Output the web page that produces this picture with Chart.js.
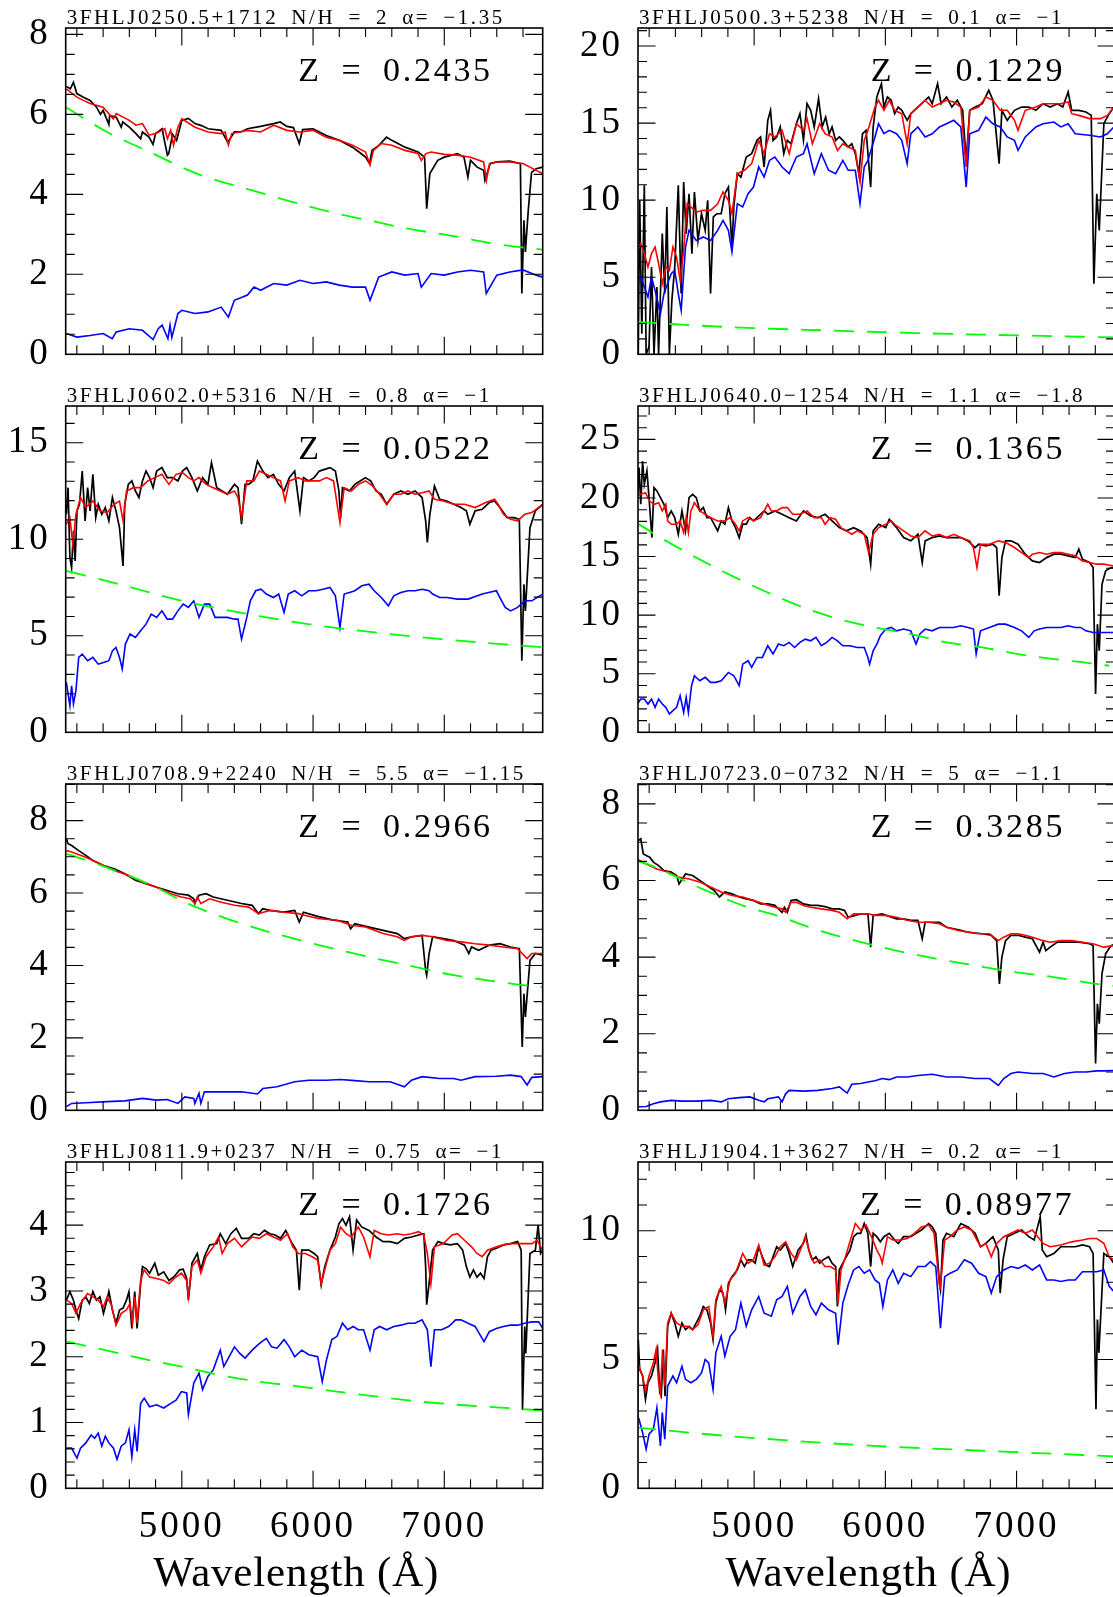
<!DOCTYPE html>
<html><head><meta charset="utf-8">
<script src="https://cdn.jsdelivr.net/npm/chart.js@4.4.1/dist/chart.umd.min.js"></script>
<style>
html,body{margin:0;padding:0;background:#fff;overflow:hidden;width:1113px;height:1597px;}
#wrap{position:relative;width:1113px;height:1597px;overflow:hidden;background:#fff;}
canvas{position:absolute;}
</style></head><body><div id="wrap"></div>
<script>
// ---------- panel texts ----------
const SOURCES = ["3FHLJ0250.5+1712","3FHLJ0500.3+5238","3FHLJ0602.0+5316","3FHLJ0640.0\u22121254","3FHLJ0708.9+2240","3FHLJ0723.0\u22120732","3FHLJ0811.9+0237","3FHLJ1904.1+3627"];
const NH = ["2","0.1","0.8","1.1","5.5","5","0.75","0.2"];
const ALPHA = ["\u22121.35","\u22121","\u22121","\u22121.8","\u22121.15","\u22121.1","\u22121","\u22121"];
const ZVAL = ["0.2435","0.1229","0.0522","0.1365","0.2966","0.3285","0.1726","0.08977"];
const Z_X = [5888,5888,5888,5888,5888,5888,5888,5807];
const X_TITLE = "Wavelength (\u00c5)";
// ---------- axes ----------
const X_MIN = 4115, X_MAX = 7750;
const X_TICK_LABELS = [5000, 6000, 7000];
const Y_MAX = [8.16, 21.17, 16.9, 27.85, 9.01, 8.52, 4.96, 12.67];
const Y_MAJOR = [2, 5, 5, 5, 2, 2, 1, 5];
const Y_MINOR = [0.5, 1, 1, 1, 0.5, 0.5, 0.2, 1];

// ---------- spectra: [wavelength, flux, wavelength, flux, ...] ----------
const P1_BLACK = [4120,6.70,4150,6.64,4174,6.80,4200,6.52,4250,6.43,4300,6.35,4350,6.18,4380,6.0,4400,6.10,4444,5.75,4450,5.97,4500,5.93,4538,5.68,4550,5.81,4600,5.68,4650,5.52,4686,5.39,4700,5.56,4750,5.43,4780,5.25,4800,5.52,4850,5.64,4870,5.3,4890,4.98,4900,5.02,4930,5.5,4960,5.35,5000,5.85,5050,5.9,5100,5.77,5150,5.72,5200,5.64,5300,5.6,5350,5.3,5400,5.56,5450,5.56,5500,5.64,5600,5.7,5700,5.77,5750,5.81,5800,5.7,5850,5.67,5895,5.27,5920,5.62,6000,5.64,6100,5.47,6200,5.35,6300,5.18,6350,5.06,6400,4.93,6430,4.77,6450,5.1,6500,5.22,6560,5.43,6600,5.35,6700,5.18,6800,5.06,6850,4.93,6866,3.64,6890,4.52,6950,4.85,7000,4.93,7100,5.02,7150,4.93,7180,4.43,7200,4.85,7250,4.68,7300,4.6,7310,4.35,7350,4.77,7400,4.81,7500,4.83,7580,4.77,7591,1.52,7607,3.35,7618,2.56,7640,3.6,7665,4.55,7700,4.64,7750,4.68];
const P1_RED = [4120,6.64,4200,6.43,4250,6.35,4300,6.27,4400,6.18,4478,5.89,4500,6.02,4600,5.85,4650,5.73,4700,5.77,4750,5.48,4800,5.52,4870,5.64,4890,5.39,4915,5.6,4937,5.23,4970,5.68,5000,5.89,5100,5.68,5200,5.56,5300,5.52,5330,5.56,5355,5.23,5380,5.52,5500,5.6,5600,5.56,5700,5.73,5800,5.6,5900,5.56,6000,5.6,6100,5.43,6200,5.35,6300,5.23,6400,5.06,6434,4.73,6460,5.1,6520,5.27,6600,5.23,6700,5.1,6800,5.02,6825,4.85,6860,5.02,6900,5.06,7000,5.0,7100,4.98,7200,4.93,7300,4.81,7321,4.35,7345,4.77,7400,4.81,7500,4.81,7600,4.77,7700,4.6,7750,4.52];
const P1_BLUE = [4120,0.52,4200,0.43,4300,0.47,4400,0.52,4470,0.39,4500,0.56,4600,0.64,4700,0.6,4781,0.37,4820,0.64,4850,0.73,4894,0.39,4910,0.73,4924,0.42,4970,1.02,5000,1.1,5100,1.02,5200,1.06,5300,1.18,5355,0.93,5400,1.35,5500,1.48,5550,1.68,5600,1.6,5700,1.77,5800,1.73,5900,1.85,6000,1.77,6100,1.81,6200,1.73,6300,1.68,6400,1.68,6434,1.35,6500,1.93,6600,2.06,6700,1.98,6800,2.02,6825,1.68,6900,2.02,7000,1.98,7100,2.06,7200,2.1,7300,2.06,7320,1.52,7400,1.98,7500,2.06,7600,2.11,7700,1.98,7750,1.93];
const P1_GREEN = [4120,6.17,4430,5.56,4754,5.06,5104,4.53,5536,4.1,5833,3.82,6129,3.56,6453,3.33,6723,3.14,7046,2.97,7451,2.73,7750,2.62];

const P2_BLACK = [4101,8.26,4117,0,4128,9.99,4144,1.34,4163,10.96,4177,0,4199,0.48,4218,5.66,4237,0,4259,4.37,4272,0,4300,7.83,4319,3.94,4335,9.56,4354,0,4373,3.5,4395,5.66,4422,10.96,4444,3.94,4463,11.18,4482,7.83,4504,10.42,4526,6.53,4545,10.53,4572,7.39,4599,9.12,4627,8.04,4646,9.99,4668,3.94,4689,8.91,4717,9.12,4749,9.12,4777,10.42,4804,10.85,4831,6.96,4845,9.56,4872,11.72,4899,11.5,4940,12.8,4981,13.02,5022,13.88,5049,14.1,5076,12.15,5104,15.18,5125,15.83,5144,13.88,5172,14.1,5199,14.75,5226,13.02,5253,13.88,5281,13.66,5322,14.96,5349,15.61,5376,13.88,5403,16.26,5431,15.83,5458,14.75,5491,16.58,5518,14.75,5545,15.39,5572,14.31,5594,14.75,5621,13.88,5649,14.1,5676,13.88,5717,13.45,5744,13.66,5771,13.02,5798,11.72,5826,14.31,5853,14.53,5888,10.85,5907,14.75,5935,16.69,5970,17.56,5989,16.04,6016,16.69,6044,16.48,6071,15.61,6098,16.04,6125,15.83,6166,15.18,6194,15.61,6221,15.83,6248,16.04,6303,16.48,6330,16.69,6357,16.26,6398,17.56,6425,16.26,6466,16.69,6507,16.04,6548,16.48,6589,15.83,6616,12.58,6643,15.83,6684,16.04,6739,16.26,6788,17.12,6820,16.48,6867,12.37,6888,15.83,6929,15.18,6984,15.83,7038,16.04,7093,16.04,7147,15.83,7202,16.26,7256,16.04,7311,16.26,7352,16.04,7393,17.02,7420,15.83,7474,15.83,7529,15.72,7569,15.5,7589,4.58,7611,10.42,7630,8.04,7665,14.96,7706,15.61,7741,16.04];
const P2_RED = [4101,6.53,4136,7.18,4163,6.53,4191,5.66,4218,6.53,4245,6.96,4272,5.88,4300,4.58,4327,5.66,4354,5.45,4381,6.96,4409,6.31,4436,4.8,4463,6.75,4490,9.77,4518,9.56,4559,9.23,4613,9.34,4668,9.34,4722,9.77,4763,10.53,4804,9.99,4831,9.12,4872,11.72,4926,11.94,4981,12.37,5035,13.88,5076,13.02,5117,14.31,5158,14.1,5213,14.53,5267,13.02,5322,14.96,5376,14.53,5403,15.29,5444,13.66,5499,14.96,5540,14.31,5594,14.1,5635,13.23,5676,13.66,5717,13.45,5771,13.23,5807,11.18,5839,13.88,5867,14.53,5921,16.04,5948,16.48,5989,15.83,6030,16.48,6071,15.83,6125,15.61,6166,13.66,6194,15.61,6248,16.04,6303,16.48,6357,16.04,6412,16.26,6466,16.48,6521,16.37,6575,16.04,6616,12.15,6643,15.83,6711,16.04,6766,16.69,6820,16.48,6875,15.83,6929,15.83,6984,15.18,7011,14.53,7066,15.83,7147,16.04,7202,16.26,7284,16.26,7338,16.26,7393,16.37,7420,15.61,7474,15.5,7556,15.29,7638,15.29,7692,15.5,7741,16.04];
const P2_BLUE = [4101,4.37,4136,5.02,4163,4.37,4191,3.72,4218,5.02,4245,4.15,4286,2.64,4313,3.94,4368,5.23,4395,5.45,4422,3.94,4444,2.85,4477,6.96,4504,8.04,4559,7.39,4613,7.61,4668,7.39,4722,8.04,4763,8.69,4804,8.04,4831,6.64,4872,9.77,4913,9.56,4954,10.42,4995,10.85,5035,12.15,5076,11.5,5117,12.58,5158,12.8,5213,12.15,5267,11.72,5322,12.8,5376,13.02,5403,13.66,5458,11.72,5512,13.02,5567,11.94,5621,11.72,5676,12.58,5717,11.94,5771,11.94,5807,9.77,5839,12.15,5867,12.58,5921,14.1,5948,14.96,5989,14.31,6030,14.53,6085,14.31,6125,13.88,6166,12.37,6194,14.31,6248,14.75,6303,14.1,6357,14.31,6412,14.75,6466,14.96,6521,15.18,6575,14.75,6616,10.85,6643,14.31,6711,14.53,6766,15.39,6820,14.96,6875,14.75,6929,14.1,6984,13.88,7011,13.23,7066,14.1,7147,14.75,7202,14.96,7284,15.07,7338,14.75,7393,14.96,7447,14.31,7556,14.21,7638,14.1,7692,14.31,7741,14.75];
const P2_GREEN = [4101,2.1,4400,1.95,4700,1.81,5000,1.7,5500,1.56,6000,1.43,6500,1.32,7000,1.23,7500,1.14,7750,1.1];

const P3_BLACK = [4120,11.29,4133,12.67,4147,9.05,4160,8.53,4174,10.43,4187,8.88,4201,11.47,4220,11.81,4241,13.53,4263,10.95,4282,12.67,4301,11.47,4322,13.36,4344,11.12,4363,11.81,4390,11.29,4417,11.64,4444,10.95,4471,12.16,4498,11.47,4525,10.6,4552,8.62,4565,11.81,4592,12.84,4619,13.02,4646,12.5,4673,12.16,4700,13.02,4727,13.53,4754,13.19,4781,12.67,4808,13.53,4848,13.71,4889,13.19,4929,13.19,4970,13.02,5005,13.53,5037,13.71,5077,13.19,5118,12.5,5158,13.19,5199,12.84,5226,13.97,5266,12.67,5307,12.5,5347,12.33,5401,12.84,5428,12.67,5455,10.78,5482,12.84,5509,12.84,5541,13.02,5576,14.05,5617,13.53,5657,13.19,5698,13.36,5738,12.84,5779,12.5,5819,13.19,5860,13.53,5900,11.47,5927,13.19,5968,13.02,6008,13.19,6048,13.53,6089,13.62,6129,13.71,6170,13.53,6197,12.5,6210,11.12,6224,12.67,6278,12.5,6318,12.84,6359,13.02,6399,13.19,6439,13.02,6480,12.5,6520,12.33,6561,11.81,6615,12.33,6669,12.5,6723,12.33,6777,12.5,6831,12.16,6858,10.95,6871,9.83,6890,11.29,6925,12.76,6965,12.07,7019,11.98,7073,11.81,7127,11.64,7168,11.47,7195,10.78,7235,11.47,7289,11.55,7343,11.9,7383,11.98,7424,11.64,7478,11.12,7532,11.12,7572,11.03,7591,3.71,7607,7.67,7618,6.29,7653,10.6,7694,11.47,7750,11.81];
const P3_RED = [4120,10.78,4147,11.12,4169,9.74,4193,11.29,4228,12.16,4268,11.64,4322,11.98,4376,11.47,4430,11.38,4484,11.81,4525,11.98,4552,10.95,4578,12.5,4632,12.67,4686,12.67,4740,13.02,4794,13.19,4848,13.36,4902,12.84,4956,13.36,5005,13.45,5050,13.19,5091,13.02,5131,13.19,5185,12.84,5239,12.67,5293,12.5,5347,12.33,5401,12.5,5428,12.16,5455,11.12,5495,13.02,5549,13.02,5590,13.53,5644,13.36,5698,13.19,5752,13.02,5787,11.98,5819,13.02,5887,13.19,5941,13.02,5994,13.02,6048,13.02,6102,13.19,6156,13.02,6205,10.86,6237,12.67,6291,12.5,6345,12.84,6399,13.02,6453,12.76,6507,12.33,6561,11.81,6615,12.33,6669,12.33,6723,12.5,6777,12.33,6831,12.41,6884,12.5,6925,12.07,6992,11.98,7073,11.81,7154,11.81,7235,11.64,7316,11.9,7383,12.07,7410,11.81,7451,11.29,7505,11.03,7559,10.95,7613,11.29,7667,11.38,7750,11.81];
const P3_BLUE = [4120,2.59,4147,1.38,4160,2.41,4174,1.47,4193,2.16,4214,3.88,4241,4.05,4282,3.71,4322,3.88,4363,3.53,4403,3.62,4444,3.71,4471,4.22,4498,4.4,4525,3.88,4546,3.28,4570,4.57,4605,5.09,4646,4.91,4686,5.26,4727,5.6,4767,6.12,4808,5.95,4848,6.29,4889,5.86,4929,5.86,4970,6.29,5010,6.64,5050,6.47,5091,6.81,5131,5.95,5172,6.64,5212,6.64,5253,5.95,5293,5.95,5347,5.95,5401,5.86,5428,5.86,5455,4.83,5495,5.95,5522,6.81,5563,7.33,5603,7.41,5644,7.16,5698,6.98,5738,7.16,5779,6.21,5811,7.16,5860,7.33,5914,7.07,5968,7.33,6021,7.33,6075,7.41,6129,7.5,6170,7.07,6205,5.43,6237,7.16,6278,7.24,6318,7.33,6372,7.59,6426,7.67,6466,7.33,6520,6.98,6574,6.55,6615,7.07,6669,7.24,6723,7.33,6777,7.33,6831,7.41,6884,7.33,6911,7.16,6965,6.98,7019,6.98,7100,6.9,7181,6.9,7289,7.16,7397,7.33,7424,6.98,7464,6.47,7505,6.29,7559,6.47,7613,6.81,7667,6.81,7750,7.16];
const P3_GREEN = [4120,8.36,4550,7.62,4970,6.86,5509,6.12,6048,5.52,6588,5.09,7127,4.74,7750,4.4];

const P4_BLACK = [4101,22.3,4112,20.03,4123,22.59,4136,19.46,4150,23.15,4163,21.16,4183,22.3,4199,20.03,4221,16.62,4237,20.88,4259,20.6,4286,20.03,4313,19.46,4341,18.32,4368,18.89,4395,18.32,4422,16.9,4450,18.89,4477,17.19,4504,20.03,4531,20.31,4559,20.03,4586,18.89,4613,19.18,4640,18.32,4668,18.32,4695,17.76,4722,17.19,4749,18.04,4777,17.76,4804,19.18,4831,18.04,4858,17.47,4886,16.62,4913,17.76,4940,17.76,4967,18.32,4995,18.04,5022,18.32,5049,18.61,5076,18.89,5104,18.61,5158,18.89,5213,18.61,5267,18.32,5322,18.04,5376,18.89,5431,18.47,5485,18.32,5540,18.61,5594,18.04,5649,17.47,5703,17.19,5758,17.47,5812,17.19,5861,16.62,5888,14.35,5907,17.19,5948,17.76,6003,17.47,6030,18.18,6085,17.47,6139,16.62,6194,16.34,6248,16.9,6281,14.49,6303,16.34,6357,16.62,6412,16.76,6466,16.62,6521,16.62,6575,16.62,6630,16.34,6684,15.77,6711,16.05,6766,15.91,6820,16.05,6848,15.77,6867,11.65,6888,14.91,6916,16.34,6957,16.34,7011,16.05,7066,15.2,7120,14.63,7175,14.49,7229,14.91,7284,15.2,7338,15.2,7393,15.06,7447,14.91,7474,15.63,7502,14.77,7556,14.49,7583,14.06,7602,3.27,7616,9.23,7630,6.96,7651,12.64,7679,13.78,7720,14.06,7741,14.06];
const P4_RED = [4101,20.17,4136,20.31,4172,20.45,4204,19.74,4237,19.46,4272,19.6,4300,18.89,4327,19.46,4341,18.04,4368,17.76,4409,17.76,4436,18.04,4463,17.05,4482,18.32,4499,17.05,4518,18.89,4545,19.6,4586,18.89,4627,18.61,4668,18.32,4722,18.04,4777,18.04,4817,18.32,4858,17.76,4886,17.19,4913,18.04,4954,18.32,4995,18.04,5049,18.32,5104,19.46,5131,18.89,5172,18.89,5213,19.18,5253,19.18,5294,18.61,5349,18.61,5403,18.89,5458,18.32,5512,18.32,5540,17.76,5580,18.32,5621,18.18,5662,17.47,5703,17.19,5744,16.9,5785,17.19,5839,16.9,5872,15.34,5907,16.9,5948,17.47,6003,17.76,6044,18.04,6085,17.61,6139,17.19,6194,16.76,6248,16.62,6303,17.19,6357,16.76,6412,16.9,6466,16.62,6521,16.9,6575,16.62,6643,16.34,6671,15.77,6698,14.06,6725,16.05,6793,16.05,6861,16.34,6916,16.19,6984,15.77,7038,15.34,7093,14.91,7120,15.2,7175,15.34,7229,15.2,7284,15.34,7338,15.34,7393,15.2,7447,15.06,7502,14.63,7556,14.49,7611,14.35,7665,14.35,7741,14.2];
const P4_BLUE = [4101,2.27,4136,2.84,4163,2.84,4191,2.41,4218,2.84,4245,2.13,4272,2.84,4300,2.41,4327,2.13,4354,1.56,4381,1.85,4409,2.13,4436,3.13,4463,1.7,4482,2.98,4499,1.7,4523,3.98,4545,4.83,4586,4.4,4627,4.69,4668,4.26,4708,4.26,4749,4.4,4804,5.11,4845,4.83,4886,3.98,4913,5.82,4954,6.11,4981,5.54,5022,6.39,5063,6.39,5104,7.39,5144,6.68,5185,7.53,5226,7.39,5267,7.67,5308,7.24,5349,7.67,5390,7.95,5431,7.81,5471,8.1,5512,7.39,5553,7.67,5594,8.1,5635,7.81,5676,7.39,5730,7.39,5785,7.24,5839,7.24,5867,6.39,5880,5.82,5907,6.96,5935,7.53,5962,8.24,6003,8.81,6044,8.95,6085,8.66,6139,8.81,6194,8.66,6234,7.53,6262,8.38,6303,8.81,6357,8.66,6412,8.95,6466,8.95,6521,8.95,6575,9.09,6630,8.95,6671,8.81,6692,6.68,6725,8.66,6793,8.95,6861,9.23,6916,9.23,6984,8.95,7038,8.66,7093,8.1,7134,8.66,7175,8.81,7229,8.95,7284,8.95,7338,8.95,7393,9.09,7447,8.95,7488,8.95,7529,8.66,7583,8.52,7638,8.52,7692,8.52,7741,8.52];
const P4_GREEN = [4101,17.9,4286,16.62,4559,14.91,4831,13.35,5104,11.93,5376,10.65,5649,9.66,5921,8.95,6194,8.38,6466,7.67,6739,7.24,7011,6.68,7284,6.25,7556,5.91,7706,5.68];

const P5_BLACK = [4120,7.5,4133,7.36,4160,7.31,4214,7.17,4268,7.04,4322,6.9,4403,6.76,4484,6.67,4565,6.53,4646,6.35,4727,6.26,4808,6.16,4889,6.07,4970,5.98,5050,5.94,5091,5.84,5099,5.71,5131,5.94,5185,5.98,5239,5.89,5347,5.8,5455,5.71,5536,5.66,5584,5.43,5617,5.57,5671,5.52,5779,5.47,5860,5.52,5895,5.2,5927,5.47,6048,5.34,6156,5.25,6264,5.2,6286,5.01,6318,5.15,6426,5.06,6534,4.97,6642,4.88,6696,4.74,6750,4.79,6831,4.83,6858,3.86,6866,3.73,6884,4.32,6911,4.79,6992,4.74,7073,4.69,7154,4.56,7187,4.33,7208,4.51,7262,4.42,7343,4.56,7424,4.6,7505,4.51,7572,4.46,7594,1.75,7607,3.22,7618,2.58,7653,4.14,7694,4.33,7750,4.28];
const P5_RED = [4120,7.17,4160,7.13,4268,6.99,4376,6.81,4484,6.62,4592,6.49,4700,6.3,4808,6.16,4916,5.98,4997,5.89,5064,5.84,5099,5.71,5118,5.89,5145,5.71,5212,5.84,5293,5.75,5401,5.66,5509,5.61,5584,5.43,5671,5.52,5779,5.47,5887,5.43,5941,5.38,6048,5.29,6183,5.25,6291,5.11,6399,5.06,6534,4.88,6642,4.79,6696,4.69,6750,4.79,6831,4.83,6911,4.79,7019,4.69,7127,4.65,7235,4.6,7343,4.56,7451,4.51,7559,4.46,7631,4.19,7667,4.33,7750,4.33];
const P5_BLUE = [4120,0.1,4160,0.19,4268,0.21,4430,0.24,4565,0.26,4700,0.33,4808,0.28,4889,0.3,4970,0.19,5023,0.37,5091,0.33,5099,0.19,5131,0.47,5145,0.19,5172,0.51,5293,0.51,5455,0.51,5576,0.45,5617,0.6,5725,0.65,5860,0.79,5968,0.83,6102,0.83,6210,0.85,6318,0.82,6426,0.79,6588,0.79,6696,0.65,6750,0.83,6831,0.93,6965,0.88,7073,0.88,7127,0.83,7235,0.93,7397,0.94,7505,0.97,7586,0.93,7631,0.7,7667,0.91,7750,0.93];
const P5_GREEN = [4120,7.08,4193,7.0,4430,6.7,4754,6.24,5050,5.7,5320,5.32,5603,4.99,5887,4.71,6183,4.44,6480,4.19,6777,3.96,7073,3.73,7329,3.59,7613,3.45,7750,3.4];

const P6_BLACK = [4101,6.87,4117,7.04,4136,7.09,4155,6.7,4177,6.65,4204,6.61,4232,6.48,4272,6.39,4313,6.26,4368,6.22,4409,6.13,4428,5.91,4477,6.17,4531,6.13,4586,6.0,4640,5.87,4695,5.74,4736,5.57,4777,5.7,4831,5.65,4886,5.57,4940,5.52,4995,5.48,5049,5.39,5104,5.39,5158,5.35,5213,5.17,5231,5.3,5253,5.17,5281,5.48,5322,5.5,5376,5.39,5431,5.35,5485,5.35,5540,5.32,5594,5.26,5649,5.26,5689,5.22,5717,5.04,5771,5.09,5812,5.13,5867,5.13,5888,4.26,5907,5.09,5976,5.13,6030,5.06,6085,5.0,6139,5.0,6194,4.96,6248,4.96,6281,4.48,6303,4.91,6357,4.91,6412,4.91,6466,4.78,6521,4.74,6575,4.7,6630,4.65,6684,4.63,6739,4.61,6807,4.57,6848,4.43,6869,3.3,6888,4.0,6916,4.43,6957,4.57,7011,4.57,7066,4.52,7120,4.48,7175,4.13,7202,4.39,7223,4.17,7256,4.26,7311,4.39,7393,4.39,7474,4.39,7556,4.35,7583,4.3,7602,1.22,7616,2.78,7630,2.26,7651,3.57,7679,4.09,7720,4.3,7741,4.33];
const P6_RED = [4101,6.57,4177,6.43,4259,6.3,4341,6.22,4422,6.09,4504,6.04,4586,5.96,4668,5.83,4749,5.7,4831,5.61,4913,5.57,4995,5.48,5076,5.39,5158,5.3,5213,5.26,5240,5.17,5281,5.43,5322,5.43,5376,5.35,5431,5.3,5512,5.26,5594,5.22,5649,5.17,5709,5.0,5758,5.13,5812,5.13,5867,5.13,5921,5.09,6003,5.09,6085,5.04,6166,4.96,6248,4.91,6330,4.91,6412,4.87,6466,4.78,6548,4.7,6630,4.65,6711,4.61,6793,4.61,6861,4.43,6902,4.52,6957,4.61,7011,4.61,7066,4.57,7120,4.52,7202,4.43,7256,4.39,7338,4.43,7420,4.43,7502,4.39,7583,4.35,7665,4.26,7741,4.3];
const P6_BLUE = [4101,0.09,4177,0.1,4232,0.17,4286,0.22,4368,0.26,4450,0.24,4559,0.24,4668,0.26,4749,0.22,4804,0.3,4886,0.33,4967,0.35,5035,0.26,5076,0.22,5104,0.3,5185,0.35,5213,0.22,5240,0.43,5267,0.52,5376,0.5,5485,0.52,5594,0.57,5649,0.61,5709,0.45,5744,0.68,5812,0.7,5867,0.74,5921,0.77,5976,0.83,6030,0.8,6085,0.87,6166,0.87,6248,0.91,6357,0.94,6466,0.87,6575,0.87,6684,0.83,6793,0.83,6861,0.65,6902,0.83,6957,0.96,7011,1.0,7120,0.96,7202,0.96,7284,0.87,7365,0.96,7447,1.0,7529,1.0,7611,1.03,7665,1.03,7741,1.04];
const P6_GREEN = [4101,6.52,4193,6.42,4613,5.77,4926,5.33,5185,5.07,5471,4.72,5785,4.42,6085,4.17,6384,3.96,6684,3.78,6984,3.61,7284,3.48,7611,3.3,7741,3.25];

const P7_BLACK = [4120,2.86,4147,2.99,4174,2.86,4193,2.71,4214,2.58,4241,2.86,4268,2.91,4295,2.81,4322,2.99,4349,2.86,4376,2.91,4403,2.66,4430,2.86,4444,2.99,4471,2.71,4498,2.51,4525,2.71,4552,2.74,4578,2.86,4597,2.99,4619,2.43,4641,2.99,4659,2.43,4686,3.11,4700,3.37,4727,3.34,4754,3.27,4794,3.42,4821,3.24,4862,3.29,4902,3.16,4943,3.22,4983,3.32,5010,3.33,5037,3.19,5050,2.86,5077,3.42,5118,3.57,5145,3.32,5172,3.52,5212,3.7,5266,3.72,5293,3.87,5334,3.72,5374,3.87,5415,3.95,5455,3.8,5509,3.8,5549,3.87,5590,3.85,5630,3.92,5671,3.87,5711,3.85,5752,3.8,5792,3.92,5833,3.75,5873,3.62,5895,3.01,5914,3.62,5968,3.62,6008,3.57,6035,3.52,6062,3.09,6089,3.37,6129,3.62,6170,3.82,6197,4.02,6224,4.1,6251,4.0,6278,4.13,6305,3.62,6332,4.08,6372,3.97,6426,3.92,6480,3.82,6534,3.75,6588,3.75,6642,3.72,6696,3.8,6750,3.82,6804,3.85,6844,3.87,6858,3.37,6866,2.79,6884,3.11,6911,3.62,6952,3.75,6992,3.72,7046,3.7,7100,3.72,7140,3.62,7168,3.37,7195,3.21,7222,3.32,7249,3.21,7276,3.27,7303,3.19,7329,3.52,7356,3.62,7397,3.65,7451,3.7,7505,3.72,7559,3.75,7586,3.62,7596,1.19,7613,2.46,7621,2.05,7653,3.57,7694,3.62,7715,4.0,7734,3.57,7750,3.62];
const P7_RED = [4120,2.86,4160,2.81,4193,2.66,4228,2.81,4282,2.96,4322,2.91,4363,2.86,4403,2.76,4430,2.91,4463,2.79,4498,2.48,4538,2.66,4578,2.71,4605,2.81,4624,2.51,4641,2.91,4659,2.51,4686,3.16,4713,3.32,4754,3.21,4808,3.19,4862,3.16,4902,3.11,4943,3.19,4997,3.27,5037,3.16,5050,2.91,5077,3.37,5118,3.47,5145,3.27,5185,3.52,5239,3.67,5280,3.82,5307,3.57,5347,3.72,5401,3.8,5455,3.67,5495,3.75,5536,3.82,5590,3.8,5644,3.87,5698,3.82,5752,3.77,5806,3.87,5846,3.67,5887,3.57,5941,3.57,5994,3.52,6035,3.47,6062,3.11,6089,3.32,6129,3.62,6170,3.72,6210,3.97,6251,3.87,6291,3.82,6345,3.97,6385,3.82,6434,3.52,6466,3.92,6520,3.87,6574,3.85,6642,3.87,6696,3.85,6750,3.87,6804,3.9,6844,3.85,6871,3.57,6898,3.11,6925,3.67,6992,3.72,7060,3.85,7100,3.87,7154,3.77,7208,3.67,7249,3.57,7289,3.52,7329,3.62,7397,3.67,7451,3.7,7505,3.72,7559,3.72,7613,3.72,7667,3.72,7707,3.77,7734,3.67,7750,3.62];
const P7_BLUE = [4120,0.61,4160,0.61,4201,0.46,4228,0.61,4268,0.69,4309,0.81,4336,0.76,4363,0.84,4390,0.64,4417,0.79,4444,0.69,4479,0.61,4506,0.44,4538,0.64,4570,0.69,4597,0.89,4619,0.48,4641,0.89,4659,0.56,4686,1.29,4713,1.37,4754,1.24,4808,1.27,4862,1.22,4916,1.29,4956,1.34,4997,1.47,5037,1.45,5050,1.12,5091,1.6,5131,1.75,5158,1.5,5199,1.7,5239,1.8,5293,2.1,5320,1.85,5361,2.0,5401,2.15,5442,2.05,5482,1.98,5536,2.1,5590,2.2,5644,2.28,5684,2.15,5725,2.13,5779,2.26,5819,2.15,5860,2.0,5914,2.1,5968,2.03,6035,2.0,6070,1.62,6102,1.95,6143,2.26,6183,2.31,6224,2.51,6264,2.41,6305,2.46,6345,2.41,6385,2.41,6434,2.1,6466,2.41,6507,2.46,6561,2.41,6615,2.46,6669,2.48,6723,2.51,6777,2.51,6831,2.56,6871,2.41,6898,1.85,6925,2.41,6979,2.41,7033,2.46,7087,2.56,7127,2.56,7181,2.51,7235,2.46,7303,2.23,7343,2.38,7397,2.43,7451,2.46,7505,2.48,7559,2.48,7613,2.51,7667,2.53,7720,2.53,7750,2.43];
const P7_GREEN = [4120,2.23,4193,2.2,4700,1.97,4997,1.85,5293,1.72,5590,1.62,5887,1.55,6183,1.47,6507,1.39,6804,1.32,7100,1.27,7397,1.23,7693,1.19,7750,1.18];

const P8_BLACK = [4101,4.61,4109,1.78,4117,5.77,4128,4.61,4150,4.36,4172,3.45,4191,4.1,4218,4.36,4245,4.87,4264,5.39,4281,3.71,4292,3.58,4308,5.39,4321,3.58,4341,6.29,4368,6.8,4395,6.42,4422,5.9,4450,6.42,4477,6.16,4504,6.29,4531,6.16,4559,6.42,4586,6.68,4613,7.06,4640,6.93,4668,6.42,4687,5.77,4708,7.19,4736,7.71,4763,7.58,4782,6.93,4804,7.96,4831,8.22,4872,8.48,4899,8.87,4926,8.61,4954,8.87,4981,8.87,5008,8.74,5035,9.38,5063,8.99,5090,8.67,5117,8.61,5144,8.99,5172,9.38,5199,9.25,5240,9.51,5267,9.12,5294,8.61,5335,9.25,5376,9.51,5395,9.83,5417,9.25,5444,8.87,5471,8.99,5499,8.74,5526,8.87,5567,8.99,5594,8.74,5621,8.61,5635,7.06,5649,8.48,5689,8.87,5730,9.25,5758,9.77,5785,9.9,5812,9.9,5839,10.28,5867,9.9,5888,8.61,5907,9.9,5935,9.77,5962,9.57,5989,9.77,6030,9.9,6071,9.64,6098,9.51,6139,9.77,6194,9.77,6234,9.9,6275,10.03,6330,10.28,6357,10.15,6384,9.9,6412,7.96,6420,7.71,6439,9.64,6466,9.9,6521,9.77,6575,10.28,6630,10.15,6684,9.9,6725,9.38,6766,9.51,6820,9.77,6861,9.25,6875,7.58,6897,8.87,6929,9.77,6984,9.9,7038,10.03,7093,9.77,7134,9.64,7180,10.54,7196,9.25,7229,8.99,7284,9.12,7338,9.38,7393,9.38,7447,9.38,7502,9.45,7556,9.38,7583,9.12,7605,3.07,7616,6.55,7627,5.26,7665,9.12,7706,8.99,7741,8.74];
const P8_RED = [4101,5.0,4123,4.74,4150,4.36,4172,3.78,4199,4.36,4232,4.87,4253,5.39,4272,4.1,4286,3.71,4302,5.39,4319,3.97,4341,6.42,4368,6.8,4409,6.42,4450,6.29,4490,6.29,4531,6.16,4572,6.35,4613,6.93,4654,7.06,4687,5.9,4708,7.32,4749,7.84,4777,7.19,4817,8.09,4858,8.35,4913,9.12,4954,8.74,4995,8.87,5035,9.45,5076,8.67,5117,8.74,5158,8.99,5199,9.38,5240,9.57,5281,9.12,5322,8.87,5362,9.38,5390,9.77,5431,8.99,5458,8.74,5499,8.87,5540,8.61,5580,8.61,5621,8.48,5640,7.19,5662,8.48,5689,8.87,5730,9.57,5771,10.28,5812,10.03,5853,10.22,5894,9.77,5935,9.25,5962,8.99,5976,8.74,6016,9.77,6057,9.64,6112,9.64,6166,9.7,6221,9.9,6275,10.15,6330,10.22,6371,9.9,6417,7.71,6452,9.64,6493,9.77,6548,10.03,6602,10.15,6657,10.03,6698,9.64,6725,9.38,6766,9.51,6807,8.99,6848,9.51,6902,9.77,6957,9.9,7011,10.03,7066,9.9,7120,10.03,7161,9.77,7202,9.51,7256,9.38,7338,9.45,7420,9.57,7502,9.64,7556,9.7,7611,9.7,7665,9.51,7706,8.99,7741,8.87];
const P8_BLUE = [4101,2.94,4123,2.68,4150,2.16,4177,1.52,4199,2.1,4232,2.29,4259,3.13,4286,1.65,4300,2.94,4319,1.91,4341,3.97,4381,4.36,4409,4.1,4450,4.74,4477,4.23,4518,4.1,4559,4.23,4599,4.48,4627,5.0,4654,4.87,4687,3.84,4708,5.26,4749,5.9,4777,5.13,4817,5.9,4858,6.16,4899,7.19,4940,6.29,4981,6.93,5035,7.45,5076,6.8,5131,6.68,5172,7.32,5213,7.45,5253,7.84,5294,6.8,5349,7.45,5390,7.71,5431,7.06,5471,6.74,5512,7.19,5567,6.93,5621,6.8,5640,5.58,5676,7.19,5717,7.9,5758,8.48,5798,8.61,5839,8.35,5880,8.48,5921,8.09,5954,7.96,5981,7.06,6016,8.09,6057,8.48,6098,7.96,6139,8.35,6194,8.22,6248,8.61,6303,8.61,6343,8.8,6384,8.61,6420,6.22,6452,8.22,6493,8.35,6548,8.48,6602,8.87,6657,8.74,6711,8.35,6766,8.22,6807,7.58,6848,8.22,6902,8.48,6957,8.61,7011,8.54,7066,8.67,7120,8.48,7175,8.67,7229,8.09,7284,8.09,7338,8.03,7393,8.09,7447,8.09,7502,8.41,7556,8.41,7611,8.41,7665,8.48,7706,7.84,7741,7.64];
const P8_GREEN = [4101,2.36,4708,2.07,5308,1.84,5907,1.65,6507,1.51,7106,1.38,7741,1.24];

// ---------- assemble ----------
const PANEL_SERIES = [
  [P1_BLACK,P1_RED,P1_BLUE,P1_GREEN],[P2_BLACK,P2_RED,P2_BLUE,P2_GREEN],
  [P3_BLACK,P3_RED,P3_BLUE,P3_GREEN],[P4_BLACK,P4_RED,P4_BLUE,P4_GREEN],
  [P5_BLACK,P5_RED,P5_BLUE,P5_GREEN],[P6_BLACK,P6_RED,P6_BLUE,P6_GREEN],
  [P7_BLACK,P7_RED,P7_BLUE,P7_GREEN],[P8_BLACK,P8_RED,P8_BLUE,P8_GREEN]];

function pts(a){const o=[];for(let i=0;i<a.length;i+=2)o.push({x:a[i],y:a[i+1]});return o;}
function range(step,max){const o=[];for(let k=0;k*step<=max+1e-9;k++)o.push(Math.round(k*step*1000)/1000);return o;}

const FONT = 'Liberation Serif';
const SP = '\u2002';
Chart.defaults.font.family = FONT;
Chart.defaults.color = '#000';

// layout
const COL_LEFT = [0, 572], CANVAS_W = 556, AXIS_W = [65.7, 66], PAD_R = [13.3, 13];
const ROW_TOP = [0, 378, 756, 1134], ROW_H = [378, 378, 378, 463];
const PAD_T = 28, PLOT_H = 326.3;

const framePlugin = {
  id: 'frame',
  beforeDraw(chart) {
    try { chart.ctx.letterSpacing = '3px'; } catch (e) {}
  },
  afterDraw(chart, args, o) {
    const i = o.idx;
    const {ctx, chartArea: a} = chart;
    const x = chart.scales.x, y = chart.scales.y;
    ctx.save();
    ctx.strokeStyle = '#000';
    ctx.lineWidth = 1.1;
    ctx.beginPath();
    for (let v = 4200; v <= X_MAX; v += 200) {
      const px = x.getPixelForValue(v);
      const len = (v % 1000 === 0) ? 17.5 : 9;
      ctx.moveTo(px, a.bottom); ctx.lineTo(px, a.bottom - len);
      ctx.moveTo(px, a.top); ctx.lineTo(px, a.top + len);
    }
    const mn = Y_MINOR[i], mj = Y_MAJOR[i];
    for (let k = 1; k * mn <= Y_MAX[i] + 1e-9; k++) {
      const v = k * mn;
      const r = v / mj;
      const len = (Math.abs(r - Math.round(r)) < 1e-6) ? 17.5 : 9;
      const py = y.getPixelForValue(v);
      ctx.moveTo(a.left, py); ctx.lineTo(a.left + len, py);
      ctx.moveTo(a.right, py); ctx.lineTo(a.right - len, py);
    }
    ctx.stroke();
    ctx.lineWidth = 1.6;
    ctx.strokeRect(a.left, a.top, a.right - a.left, a.bottom - a.top);
    ctx.fillStyle = '#000';
    ctx.textAlign = 'left';
    ctx.textBaseline = 'alphabetic';
    // panel title
    ctx.font = '21px "' + FONT + '"';
    try { ctx.letterSpacing = '2.6px'; } catch (e) {}
    ctx.fillText(SOURCES[i] + SP + 'N/H' + SP + '=' + SP + NH[i] + SP + '\u03b1=' + SP + ALPHA[i], a.left + 1, a.top - 4.5);
    // redshift label
    ctx.font = '34px "' + FONT + '"';
    try { ctx.letterSpacing = '2.7px'; } catch (e) {}
    ctx.fillText('Z' + SP + '=' + SP + ZVAL[i], x.getPixelForValue(Z_X[i]), a.top + 53);
    // x axis title on bottom row
    if (o.bottom) {
      ctx.font = '43px "' + FONT + '"';
      try { ctx.letterSpacing = '0.8px'; } catch (e) {}
      ctx.textAlign = 'center';
      ctx.fillText(X_TITLE, (a.left + a.right) / 2 - 8, a.bottom + 98);
    }
    ctx.restore();
  }
};

const wrap = document.getElementById('wrap');
for (let i = 0; i < 8; i++) {
  const col = i % 2, row = Math.floor(i / 2);
  const bottomRow = row === 3;
  const cv = document.createElement('canvas');
  cv.width = CANVAS_W; cv.height = ROW_H[row];
  cv.style.left = COL_LEFT[col] + 'px'; cv.style.top = ROW_TOP[row] + 'px';
  cv.style.width = CANVAS_W + 'px'; cv.style.height = ROW_H[row] + 'px';
  wrap.appendChild(cv);
  const xAxisH = ROW_H[row] - PAD_T - PLOT_H;
  const s = PANEL_SERIES[i];
  const mk = (arr, color, w, extra) => Object.assign({data: pts(arr), borderColor: color, borderWidth: w, pointRadius: 0, fill: false, tension: 0}, extra || {});
  new Chart(cv, {
    type: 'line',
    data: { datasets: [
      mk(s[3], '#00ff00', 1.8, {borderDash: [20, 13], cubicInterpolationMode: 'monotone'}),
      mk(s[2], '#0000ff', 1.6),
      mk(s[1], '#ff0000', 1.6),
      mk(s[0], '#000000', 1.7)
    ]},
    options: {
      responsive: false, animation: false, events: [],
      layout: { autoPadding: false, padding: { top: PAD_T, right: PAD_R[col], left: 0, bottom: 0 } },
      plugins: { legend: {display: false}, tooltip: {enabled: false}, frame: { idx: i, bottom: bottomRow } },
      scales: {
        x: {
          type: 'linear', min: X_MIN, max: X_MAX, position: 'bottom',
          grid: { display: false, drawTicks: false }, border: { display: false },
          afterBuildTicks: sc => { sc.ticks = X_TICK_LABELS.map(v => ({value: v})); },
          afterFit: sc => { sc.height = xAxisH; sc.paddingLeft = 0; sc.paddingRight = 0; sc.paddingTop = 0; sc.paddingBottom = 0; },
          ticks: { display: bottomRow, padding: 17, autoSkip: false, maxRotation: 0, minRotation: 0, color: '#000', font: { family: FONT, size: 37 }, callback: v => String(v) }
        },
        y: {
          type: 'linear', min: 0, max: Y_MAX[i], position: 'left',
          grid: { display: false, drawTicks: false }, border: { display: false },
          afterBuildTicks: sc => { sc.ticks = range(Y_MAJOR[i], Y_MAX[i]).map(v => ({value: v})); },
          afterFit: sc => { sc.width = AXIS_W[col]; sc.paddingLeft = 0; sc.paddingRight = 0; sc.paddingTop = 0; sc.paddingBottom = 0; },
          ticks: { padding: 15, autoSkip: false, color: '#000', font: { family: FONT, size: 37 }, callback: v => String(v) }
        }
      }
    },
    plugins: [framePlugin]
  });
}
</script>
</body></html>
